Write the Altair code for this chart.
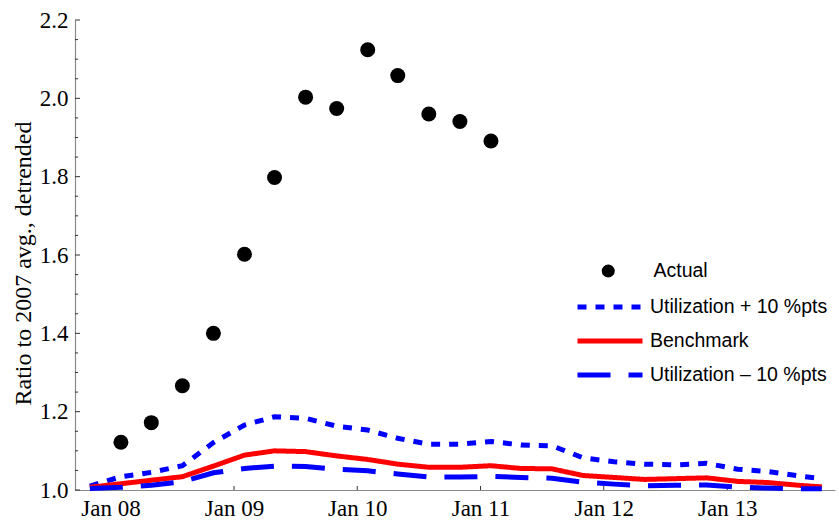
import altair as alt
import pandas as pd

# ---- data ----
line_dates = [
    "2007-11-01", "2008-02-01", "2008-05-01", "2008-08-01", "2008-11-01",
    "2009-02-01", "2009-05-01", "2009-08-01", "2009-11-01",
    "2010-02-01", "2010-05-01", "2010-08-01", "2010-11-01",
    "2011-02-01", "2011-05-01", "2011-08-01", "2011-11-01",
    "2012-02-01", "2012-05-01", "2012-08-01", "2012-11-01",
    "2013-02-01", "2013-05-01", "2013-08-01", "2013-10-08",
]
benchmark = [1.007, 1.016, 1.025, 1.034, 1.061, 1.089, 1.100, 1.098, 1.087,
             1.078, 1.066, 1.058, 1.058, 1.062, 1.055, 1.054, 1.037,
             1.032, 1.027, 1.029, 1.031, 1.022, 1.019, 1.012, 1.008]
util_plus = [1.010, 1.034, 1.045, 1.062, 1.121, 1.166, 1.187, 1.183, 1.163,
             1.153, 1.132, 1.117, 1.117, 1.124, 1.115, 1.113, 1.082,
             1.072, 1.066, 1.064, 1.068, 1.053, 1.047, 1.036, 1.029]
util_minus = [1.004, 1.007, 1.012, 1.021, 1.044, 1.055, 1.061, 1.060, 1.053,
              1.049, 1.041, 1.033, 1.033, 1.035, 1.032, 1.030, 1.020,
              1.015, 1.011, 1.012, 1.013, 1.007, 1.005, 1.003, 1.003]

actual_dates = [
    "2008-02-01", "2008-05-01", "2008-08-01", "2008-11-01",
    "2009-02-01", "2009-05-01", "2009-08-01", "2009-11-01",
    "2010-02-01", "2010-05-01", "2010-08-01", "2010-11-01",
    "2011-02-01",
]
actual = [1.122, 1.172, 1.266, 1.400, 1.602, 1.798, 2.003, 1.974,
          2.124, 2.058, 1.960, 1.941, 1.891]

series_names = ["Utilization + 10 %pts", "Benchmark", "Utilization – 10 %pts"]
actual_name = "Actual"

x_tick_years = [2008, 2009, 2010, 2011, 2012, 2013]
y_major = [1.0, 1.2, 1.4, 1.6, 1.8, 2.0, 2.2]
y_minor = [1.05, 1.1, 1.15, 1.25, 1.3, 1.35, 1.45, 1.5, 1.55, 1.65, 1.7, 1.75,
           1.85, 1.9, 1.95, 2.05, 2.1, 2.15]

# ---- tables ----
lines_df = pd.DataFrame({
    "date": pd.to_datetime(line_dates * 3),
    "value": util_plus + benchmark + util_minus,
    "series": [series_names[0]] * len(line_dates)
    + [series_names[1]] * len(line_dates)
    + [series_names[2]] * len(line_dates),
})
actual_df = pd.DataFrame({
    "date": pd.to_datetime(actual_dates),
    "value": actual,
    "kind": [actual_name] * len(actual),
})
xtick_df = pd.DataFrame({"date": pd.to_datetime([f"{y}-01-01" for y in x_tick_years])})
ymaj_df = pd.DataFrame({"value": y_major})
ymin_df = pd.DataFrame({"value": y_minor})

SERIF = "Liberation Serif"
SANS = "Liberation Sans"
AXIS_GRAY = "#8a8a8a"

x_scale = alt.Scale(domain=[alt.DateTime(year=2007, month=9, date=18),
                            alt.DateTime(year=2013, month=11, date=16)])
y_scale = alt.Scale(domain=[1.0, 2.2], nice=False, zero=False)

x_axis = alt.Axis(
    values=[alt.DateTime(year=y, month=1, date=1) for y in x_tick_years],
    format="%b %y", ticks=False, grid=False, domainColor=AXIS_GRAY,
    domainWidth=1.2, labelFont=SERIF, labelFontSize=23, labelColor="black",
    labelPadding=7, labelFlush=False, title=None,
)
y_axis = alt.Axis(
    values=y_major, format=".1f", ticks=False, grid=False,
    domainColor=AXIS_GRAY, domainWidth=1.2, labelFont=SERIF, labelFontSize=23,
    labelColor="black", labelPadding=7,
    title="Ratio to 2007 avg., detrended", titleFont=SERIF, titleFontSize=24,
    titleFontWeight="normal", titleColor="black",
    titleX=-40, titleY=243, titleAngle=270, titleBaseline="bottom",
    titleAlign="center",
)

line_legend = alt.Legend(
    title=None, orient="none", legendX=500, legendY=277,
    symbolType="stroke", symbolSize=4225, symbolStrokeWidth=5,
    clipHeight=20, rowPadding=14, labelOffset=5, padding=0, labelLimit=0,
    labelFont=SANS, labelFontSize=19.5, labelColor="black",
)

lines = alt.Chart(lines_df).mark_line(strokeWidth=5).encode(
    x=alt.X("date:T", scale=x_scale, axis=x_axis),
    y=alt.Y("value:Q", scale=y_scale, axis=y_axis),
    color=alt.Color(
        "series:N",
        scale=alt.Scale(domain=series_names, range=["#0000ff", "#ff0000", "#0000ff"]),
        legend=line_legend,
    ),
    strokeDash=alt.StrokeDash(
        "series:N",
        scale=alt.Scale(domain=series_names, range=[[9, 9], [1, 0], [33, 18]]),
        legend=line_legend,
    ),
)

points = alt.Chart(actual_df).mark_point(
    filled=True, size=225, color="black", opacity=1
).encode(
    x=alt.X("date:T", scale=x_scale),
    y=alt.Y("value:Q", scale=y_scale),
    shape=alt.Shape(
        "kind:N",
        scale=alt.Scale(domain=[actual_name], range=["circle"]),
        legend=alt.Legend(
            title=None, orient="none", legendX=523.5, legendY=241,
            symbolSize=170, symbolFillColor="black", symbolStrokeColor="black",
            symbolStrokeWidth=0, clipHeight=20, labelOffset=35.5, padding=0,
            labelLimit=0, labelFont=SANS, labelFontSize=19.5, labelColor="black",
        ),
    ),
)

xticks = alt.Chart(xtick_df).mark_rule(color="#333333", strokeWidth=1).encode(
    x=alt.X("date:T", scale=x_scale), y=alt.value(470), y2=alt.value(466)
)
ymaj = alt.Chart(ymaj_df).mark_rule(color="#333333", strokeWidth=1).encode(
    y=alt.Y("value:Q", scale=y_scale), x=alt.value(0), x2=alt.value(5)
)
ymin = alt.Chart(ymin_df).mark_rule(color="#333333", strokeWidth=1).encode(
    y=alt.Y("value:Q", scale=y_scale), x=alt.value(0), x2=alt.value(3)
)

chart = alt.layer(xticks, ymaj, ymin, lines, points).properties(
    width=760, height=470,
    autosize=alt.AutoSizeParams(type="none"),
    padding={"left": 75, "top": 20, "right": 4, "bottom": 40},
    background="white",
).configure_view(stroke=None)

chart.save("out.html", embed_options={"renderer": "svg", "actions": False})
